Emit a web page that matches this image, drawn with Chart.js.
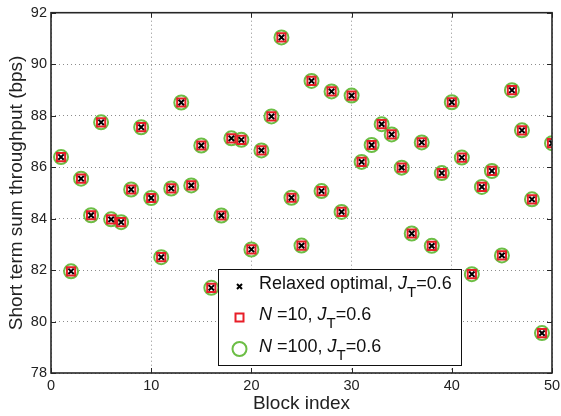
<!DOCTYPE html>
<html lang="en">
<head>
<meta charset="UTF-8">
<title>Short term sum throughput</title>
<script src="https://cdn.jsdelivr.net/npm/chart.js@4"></script>
<style>
  html, body { margin: 0; padding: 0; background: #fff; }
</style>
</head>
<body>
<canvas id="tp" width="561" height="416"></canvas>
<script>
// block index 1..50 and the short term sum throughput (bps)
const blockIndex = [1, 2, 3, 4, 5, 6, 7, 8, 9, 10, 11, 12, 13, 14, 15, 16, 17, 18, 19, 20,
                    21, 22, 23, 24, 25, 26, 27, 28, 29, 30, 31, 32, 33, 34, 35, 36, 37, 38, 39, 40,
                    41, 42, 43, 44, 45, 46, 47, 48, 49, 50];
const relaxedOptimal = [86.39, 81.95, 85.55, 84.13, 87.74, 83.97, 83.86, 85.13, 87.55, 84.80,
                        82.50, 85.17, 88.51, 85.29, 86.84, 81.31, 84.12, 87.12, 87.06, 82.80,
                        86.65, 87.97, 91.04, 84.81, 82.95, 89.35, 85.07, 88.94, 84.26, 88.78,
                        86.20, 86.86, 87.67, 87.27, 85.98, 83.42, 86.96, 82.94, 85.77, 88.52,
                        86.37, 81.84, 85.23, 85.85, 82.57, 88.99, 87.43, 84.75, 79.55, 86.93];
const n10 = [86.39, 81.95, 85.55, 84.13, 87.74, 83.97, 83.86, 85.13, 87.55, 84.80,
             82.50, 85.17, 88.51, 85.29, 86.84, 81.31, 84.12, 87.12, 87.06, 82.80,
             86.65, 87.97, 91.04, 84.81, 82.95, 89.35, 85.07, 88.94, 84.26, 88.78,
             86.20, 86.86, 87.67, 87.27, 85.98, 83.42, 86.96, 82.94, 85.77, 88.52,
             86.37, 81.84, 85.23, 85.85, 82.57, 88.99, 87.43, 84.75, 79.55, 86.93];
const n100 = [86.39, 81.95, 85.55, 84.13, 87.74, 83.97, 83.86, 85.13, 87.55, 84.80,
              82.50, 85.17, 88.51, 85.29, 86.84, 81.31, 84.12, 87.12, 87.06, 82.80,
              86.65, 87.97, 91.04, 84.81, 82.95, 89.35, 85.07, 88.94, 84.26, 88.78,
              86.20, 86.86, 87.67, 87.27, 85.98, 83.42, 86.96, 82.94, 85.77, 88.52,
              86.37, 81.84, 85.23, 85.85, 82.57, 88.99, 87.43, 84.75, 79.55, 86.93];

const xTicks = [0, 10, 20, 30, 40, 50];
const yTicks = [78, 80, 82, 84, 86, 88, 90, 92];

const FONT = '"Liberation Sans", Arial, Helvetica, sans-serif';
const GREEN = 'rgb(108,190,69)';
const RED = 'rgb(232,30,40)';

const toPoints = vals => vals.map((v, i) => ({ x: blockIndex[i], y: v }));

// legend rows: [text, style] runs, style '' | 'i' (italic) | 'sub' (subscript)
const legendRows = [
  { marker: 'x', runs: [['Relaxed optimal, ', ''], ['J', 'i'], ['T', 'sub'], ['=0.6', '']] },
  { marker: 'sq', runs: [['N', 'i'], [' =10, ', ''], ['J', 'i'], ['T', 'sub'], ['=0.6', '']] },
  { marker: 'o', runs: [['N', 'i'], [' =100, ', ''], ['J', 'i'], ['T', 'sub'], ['=0.6', '']] }
];

// box round the axes with inward tick marks (matlab style)
const frame = {
  id: 'frame',
  afterDatasetsDraw(chart) {
    const { ctx, chartArea: a, scales: { x, y } } = chart;
    ctx.save();
    ctx.strokeStyle = '#262626';
    ctx.lineWidth = 1;
    ctx.beginPath();
    xTicks.forEach(t => {
      const px = Math.round(x.getPixelForValue(t)) + 0.5;
      ctx.moveTo(px, a.bottom); ctx.lineTo(px, a.bottom - 5);
      ctx.moveTo(px, a.top); ctx.lineTo(px, a.top + 5);
    });
    yTicks.forEach(t => {
      const py = Math.round(y.getPixelForValue(t)) + 0.5;
      ctx.moveTo(a.left, py); ctx.lineTo(a.left + 5, py);
      ctx.moveTo(a.right, py); ctx.lineTo(a.right - 5, py);
    });
    ctx.stroke();
    ctx.lineWidth = 1.6;
    ctx.strokeRect(a.left, a.top, a.right - a.left, a.bottom - a.top);
    ctx.restore();
  }
};

const legendBox = {
  id: 'legendBox',
  afterDraw(chart) {
    const ctx = chart.ctx;
    const bx = 218.5, by = 269.5, bw = 243, bh = 96;
    ctx.save();
    ctx.fillStyle = '#fff';
    ctx.fillRect(bx, by, bw, bh);
    ctx.strokeStyle = '#111';
    ctx.lineWidth = 1;
    ctx.strokeRect(bx, by, bw, bh);

    const markerY = [286.5, 317.5, 349];
    const baseY = [289, 320, 352];
    legendRows.forEach((row, r) => {
      const mx = 239.5, my = markerY[r];
      ctx.lineWidth = 2;
      if (row.marker === 'x') {
        ctx.strokeStyle = '#000';
        ctx.beginPath();
        ctx.moveTo(mx - 2.5, my - 2.5); ctx.lineTo(mx + 2.5, my + 2.5);
        ctx.moveTo(mx + 2.5, my - 2.5); ctx.lineTo(mx - 2.5, my + 2.5);
        ctx.stroke();
      } else if (row.marker === 'sq') {
        ctx.strokeStyle = RED;
        ctx.strokeRect(mx - 4, my - 4, 8, 8);
      } else {
        ctx.strokeStyle = GREEN;
        ctx.beginPath();
        ctx.arc(mx, my, 7, 0, Math.PI * 2);
        ctx.stroke();
      }
      let tx = 259;
      ctx.fillStyle = '#111';
      ctx.textBaseline = 'alphabetic';
      row.runs.forEach(([txt, st]) => {
        let yy = baseY[r];
        if (st === 'i') ctx.font = 'italic 18px ' + FONT;
        else if (st === 'sub') { ctx.font = '15px ' + FONT; yy += 8; }
        else ctx.font = '18px ' + FONT;
        ctx.fillText(txt, tx, yy);
        tx += ctx.measureText(txt).width;
      });
    });
    ctx.restore();
  }
};

const ctx = document.getElementById('tp').getContext('2d');
new Chart(ctx, {
  type: 'scatter',
  data: {
    datasets: [{
      label: 'Relaxed optimal, J_T=0.6',
      data: toPoints(relaxedOptimal),
      pointStyle: 'crossRot',
      pointRadius: 3.8,
      borderColor: '#000',
      borderWidth: 2
    }, {
      label: 'N =10, J_T=0.6',
      data: toPoints(n10),
      pointStyle: 'rect',
      pointRadius: 5.8,
      borderColor: RED,
      backgroundColor: 'rgba(0,0,0,0)',
      borderWidth: 2
    }, {
      label: 'N =100, J_T=0.6',
      data: toPoints(n100),
      pointStyle: 'circle',
      pointRadius: 7,
      borderColor: GREEN,
      backgroundColor: 'rgba(0,0,0,0)',
      borderWidth: 2
    }]
  },
  options: {
    responsive: false,
    animation: false,
    layout: { padding: { top: 12, right: 9, left: 0, bottom: 0 } },
    plugins: { legend: { display: false }, tooltip: { enabled: false } },
    scales: {
      x: {
        type: 'linear',
        min: 0, max: 50,
        afterFit: s => { s.height = 43; s.paddingRight = 9; s.paddingLeft = 0; },
        afterBuildTicks: s => { s.ticks = xTicks.map(v => ({ value: v })); },
        ticks: { color: '#222', padding: 4, font: { family: FONT, size: 14.5 } },
        grid: { color: '#8c8c8c', drawTicks: false },
        border: { display: false, dash: [1, 3] },
        title: { display: true, text: 'Block index', color: '#222', padding: { top: 0, bottom: 1 },
                 font: { family: FONT, size: 19 } }
      },
      y: {
        type: 'linear',
        min: 78, max: 92,
        afterFit: s => { s.width = 51; },
        afterBuildTicks: s => { s.ticks = yTicks.map(v => ({ value: v })); },
        ticks: { color: '#222', padding: 4, font: { family: FONT, size: 14.5 } },
        grid: { color: '#8c8c8c', drawTicks: false },
        border: { display: false, dash: [1, 3] },
        title: { display: true, text: 'Short term sum throughput (bps)', color: '#222', padding: { top: 5, bottom: 0 },
                 font: { family: FONT, size: 19 } }
      }
    }
  },
  plugins: [frame, legendBox]
});
</script>
</body>
</html>
